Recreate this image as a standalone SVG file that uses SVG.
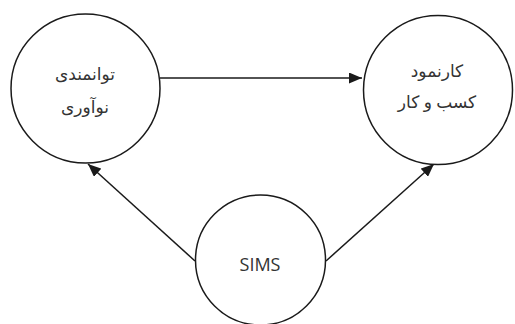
<svg xmlns="http://www.w3.org/2000/svg" width="515" height="324" viewBox="0 0 515 324">
<defs>
<marker id="ah" markerWidth="13" markerHeight="11" refX="13" refY="5.5" orient="auto" markerUnits="userSpaceOnUse">
<path d="M0,0 L13,5.5 L0,11 Z" fill="#1a1a1a"/>
</marker>
<style>
.node{fill:#fff;stroke:#1a1a1a;stroke-width:1.5}
.fa{font-family:"DejaVu Sans",sans-serif;font-size:17px;fill:#333;text-anchor:middle}
.en{font-family:"Open Sans","Liberation Sans",sans-serif;font-size:18px;fill:#333;text-anchor:middle}
.edge{stroke:#1a1a1a;stroke-width:1.5;fill:none;marker-end:url(#ah)}
</style>
</defs>
<rect width="515" height="324" fill="#fff"/>
<g id="connectors">
<line class="edge" x1="160" y1="78" x2="362" y2="78"/>
<line class="edge" x1="195" y1="261" x2="88" y2="164"/>
<line class="edge" x1="326" y1="261" x2="434" y2="164"/>
</g>
<g id="n1">
<circle class="node" cx="85.5" cy="88.5" r="74.5"/>
<text class="fa" x="85" y="80" direction="rtl">توانمندی</text>
<text class="fa" x="85" y="113" direction="rtl">نوآوری</text>
</g>
<g id="n2">
<circle class="node" cx="438" cy="90" r="74.5"/>
<text class="fa" x="437" y="77" direction="rtl">کارنمود</text>
<text class="fa" x="437" y="108" direction="rtl" word-spacing="-1">کسب و کار</text>
</g>
<g id="n3">
<circle class="node" cx="260.5" cy="260" r="65"/>
<text class="en" x="260" y="271">SIMS</text>
</g>
</svg>
